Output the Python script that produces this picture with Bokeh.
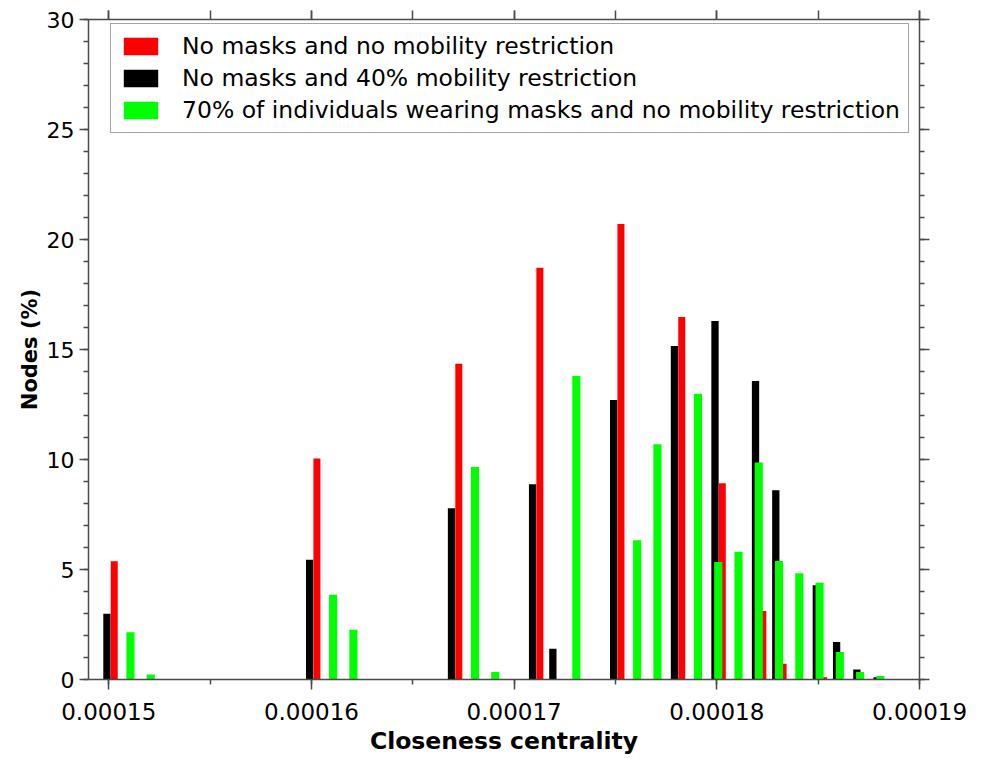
from bokeh.plotting import figure
from bokeh.models import (ColumnDataSource, LinearAxis, Legend, LegendItem, Range1d,
                          SingleIntervalTicker, PrintfTickFormatter, CustomJSTickFormatter)
from bokeh.embed import file_html
from bokeh.resources import INLINE

# Closeness centrality histogram (bin centres) and share of nodes (%) per scenario
black_x = [1.4991e-4, 1.5991e-4, 1.6691e-4, 1.7091e-4, 1.7191e-4, 1.7491e-4, 1.7791e-4,
           1.7991e-4, 1.8191e-4, 1.8291e-4, 1.8491e-4, 1.8591e-4, 1.8691e-4, 1.8791e-4]
black_y = [2.99, 5.44, 7.78, 8.87, 1.40, 12.70, 15.16, 16.30, 13.57, 8.60, 4.28, 1.70, 0.46, 0.10]

red_x = [1.5027e-4, 1.6027e-4, 1.6727e-4, 1.7127e-4, 1.7527e-4, 1.7827e-4, 1.8027e-4,
         1.8227e-4, 1.8327e-4, 1.8527e-4]
red_y = [5.38, 10.05, 14.35, 18.72, 20.70, 16.48, 8.92, 3.11, 0.72, 0.10]

green_x = [1.5107e-4, 1.5207e-4, 1.6107e-4, 1.6207e-4, 1.6807e-4, 1.6907e-4, 1.7307e-4,
           1.7607e-4, 1.7707e-4, 1.7907e-4, 1.8007e-4, 1.8107e-4, 1.8207e-4, 1.8307e-4,
           1.8407e-4, 1.8507e-4, 1.8607e-4, 1.8707e-4, 1.8807e-4]
green_y = [2.15, 0.23, 3.85, 2.26, 9.66, 0.34, 13.80, 6.33, 10.69, 12.99, 5.34, 5.81,
           9.86, 5.39, 4.83, 4.40, 1.25, 0.34, 0.16]

labels = ["No masks and no mobility restriction",
          "No masks and 40% mobility restriction",
          "70% of individuals wearing masks and no mobility restriction"]

FONT = "DejaVu Sans"
AXIS_COLOR = "#4a4a4a"

p = figure(width=982, height=759, output_backend="svg", toolbar_location=None,
           x_range=Range1d(1.49e-4, 1.9e-4), y_range=Range1d(0, 30),
           min_border_left=88, min_border_right=63, min_border_top=19, min_border_bottom=80,
           x_axis_location="below", y_axis_location="left")
p.grid.visible = False
p.outline_line_color = None
p.background_fill_color = "white"
p.border_fill_color = "white"

# black drawn first, red beside it, green on top
r_black = p.vbar(x="x", top="y", width=3.6e-7, bottom=0,
                 source=ColumnDataSource(dict(x=black_x, y=black_y)),
                 fill_color="#000000", line_color=None)
r_red = p.vbar(x="x", top="y", width=3.45e-7, bottom=0,
               source=ColumnDataSource(dict(x=red_x, y=red_y)),
               fill_color="#ff0000", line_color=None)
r_green = p.vbar(x="x", top="y", width=4.0e-7, bottom=0,
                 source=ColumnDataSource(dict(x=green_x, y=green_y)),
                 fill_color="#00ff00", line_color=None)

xticker = SingleIntervalTicker(interval=1e-5, num_minor_ticks=2)
yticker = SingleIntervalTicker(interval=5, num_minor_ticks=5)
blank = CustomJSTickFormatter(code="return ''")

xa = p.xaxis[0]
xa.ticker = xticker
xa.formatter = PrintfTickFormatter(format="%.5f")
xa.axis_label = "Closeness centrality"
xa.axis_label_text_font = FONT
xa.axis_label_text_font_style = "bold"
xa.axis_label_text_font_size = "23.5px"
xa.axis_label_text_color = "#000000"
xa.axis_label_standoff = 4
xa.major_label_text_font = FONT
xa.major_label_text_font_size = "23px"
xa.major_label_text_color = "#000000"
xa.major_label_standoff = 13
xa.major_tick_out = 10
xa.major_tick_in = 0
xa.minor_tick_out = 5
xa.minor_tick_in = 0

ya = p.yaxis[0]
ya.ticker = yticker
ya.axis_label = "Nodes (%)"
ya.axis_label_text_font = FONT
ya.axis_label_text_font_style = "bold"
ya.axis_label_text_font_size = "21px"
ya.axis_label_text_color = "#000000"
ya.axis_label_standoff = 2
ya.major_label_text_font = FONT
ya.major_label_text_font_size = "22px"
ya.major_label_text_color = "#000000"
ya.major_label_standoff = 5
ya.major_tick_out = 9
ya.major_tick_in = 0
ya.minor_tick_out = 5
ya.minor_tick_in = 0

top_axis = LinearAxis(ticker=xticker, formatter=blank, major_label_text_font_size="0px",
                      major_label_standoff=0, major_tick_out=9, major_tick_in=0,
                      minor_tick_out=9, minor_tick_in=0)
right_axis = LinearAxis(ticker=yticker, formatter=blank, major_label_text_font_size="0px",
                        major_label_standoff=0, major_tick_out=10, major_tick_in=0,
                        minor_tick_out=5, minor_tick_in=0)
p.add_layout(top_axis, "above")
p.add_layout(right_axis, "right")

for ax in (xa, ya, top_axis, right_axis):
    ax.axis_line_color = AXIS_COLOR
    ax.axis_line_width = 1.5
    ax.major_tick_line_color = AXIS_COLOR
    ax.major_tick_line_width = 1.5
    ax.minor_tick_line_color = AXIS_COLOR
    ax.minor_tick_line_width = 1.5

legend = Legend(items=[LegendItem(label=labels[0], renderers=[r_red]),
                       LegendItem(label=labels[1], renderers=[r_black]),
                       LegendItem(label=labels[2], renderers=[r_green])],
                location=(22, 546),
                label_text_font=FONT, label_text_font_size="23.5px",
                label_text_color="#000000",
                glyph_width=43, glyph_height=22, label_standoff=20,
                padding=8, spacing=4, margin=0,
                border_line_color=AXIS_COLOR, border_line_width=1.5,
                background_fill_color="white", background_fill_alpha=1.0)
p.add_layout(legend)

open("out.html", "w").write(file_html(p, INLINE))
